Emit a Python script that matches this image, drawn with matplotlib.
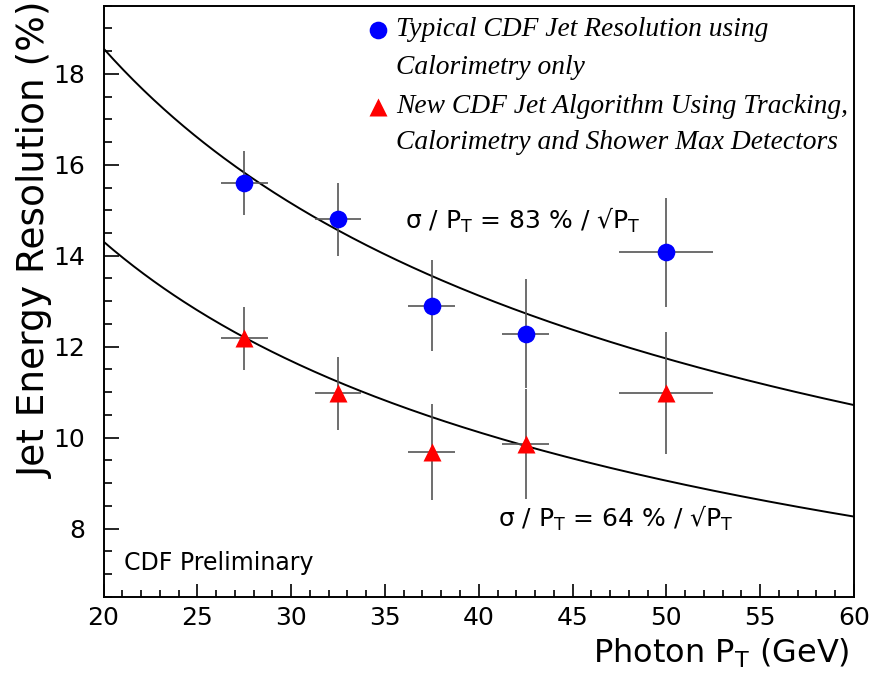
import matplotlib
matplotlib.use("Agg")
import matplotlib.pyplot as plt
import numpy as np
from matplotlib.ticker import MultipleLocator

# photon pT bins and measured jet resolutions (%)
pt = [27.5, 32.5, 37.5, 42.5, 50.0]
pt_err = [1.25, 1.25, 1.25, 1.25, 2.5]
res_calo = [15.6, 14.8, 12.9, 12.28, 14.08]
res_calo_err = [0.7, 0.8, 1.0, 1.2, 1.2]
res_track = [12.18, 10.97, 9.68, 9.86, 10.98]
res_track_err = [0.7, 0.8, 1.05, 1.2, 1.35]

# sigma/pT = k/sqrt(pT) parametrisations
k_calo = 83.0
k_track = 64.0

plt.rcParams['mathtext.fontset'] = 'dejavusans'

fig = plt.figure(figsize=(8.75, 6.77), dpi=100)
ax = fig.add_axes([0.1183, 0.1186, 0.976 - 0.1183, 0.9916 - 0.1186])

xf = np.linspace(20, 60, 300)
ax.plot(xf, k_calo / np.sqrt(xf), color='black', lw=1.4)
ax.plot(xf, k_track / np.sqrt(xf), color='black', lw=1.4)

ax.errorbar(pt, res_calo, xerr=pt_err, yerr=res_calo_err, fmt='none',
            ecolor='#555555', elinewidth=1.2, capsize=0)
ax.errorbar(pt, res_track, xerr=pt_err, yerr=res_track_err, fmt='none',
            ecolor='#555555', elinewidth=1.2, capsize=0)
ax.plot(pt, res_calo, 'o', color='blue', ms=12.7, mec='none', zorder=5)
ax.plot(pt, res_track, '^', color='red', ms=12.5, mec='none', zorder=5)

ax.set_xlim(20, 60)
ax.set_ylim(6.5, 19.5)
ax.xaxis.set_major_locator(MultipleLocator(5))
ax.xaxis.set_minor_locator(MultipleLocator(1))
ax.yaxis.set_major_locator(MultipleLocator(2))
ax.yaxis.set_minor_locator(MultipleLocator(0.5))
ax.tick_params(which='both', direction='in', top=False, right=False, width=1.2)
ax.tick_params(axis='y', which='major', length=10.8, pad=13, labelsize=18)
ax.tick_params(axis='y', which='minor', length=5.5)
ax.tick_params(axis='x', which='major', length=9.4, pad=7, labelsize=18)
ax.tick_params(axis='x', which='minor', length=4.8)
for s in ax.spines.values():
    s.set_linewidth(1.4)

ax.set_xlabel(r'Photon P$_\mathrm{T}$ (GeV)', fontsize=23, ha='right')
ax.xaxis.set_label_coords(0.9947, -0.068)
ax.set_ylabel('Jet Energy Resolution (%)', fontsize=27)
ax.yaxis.set_label_coords(-0.066, 0.604)

ax.text(36.07, 14.78, r'σ / P$_\mathrm{T}$ = 83 % / √P$_\mathrm{T}$', fontsize=18, va='center')
ax.text(41.03, 8.22, r'σ / P$_\mathrm{T}$ = 64 % / √P$_\mathrm{T}$', fontsize=18, va='center')
ax.text(21.1, 7.25, 'CDF Preliminary', fontsize=17, va='center')

# hand-made legend, marker aligned with the first text line
leg_font = dict(family='Liberation Serif', style='italic', fontsize=19.8, va='center')
ax.plot([0.3658], [0.959], 'o', color='blue', ms=12.7, mec='none',
        transform=ax.transAxes, clip_on=False)
ax.text(0.3897, 0.959, 'Typical CDF Jet Resolution using', transform=ax.transAxes, **leg_font)
ax.text(0.3897, 0.896, 'Calorimetry only', transform=ax.transAxes, **leg_font)
ax.plot([0.3658], [0.829], '^', color='red', ms=12.5, mec='none',
        transform=ax.transAxes, clip_on=False)
ax.text(0.3897, 0.829, 'New CDF Jet Algorithm Using Tracking,', transform=ax.transAxes, **leg_font)
ax.text(0.3897, 0.768, 'Calorimetry and Shower Max Detectors', transform=ax.transAxes, **leg_font)

fig.savefig('out.png', dpi=100)
